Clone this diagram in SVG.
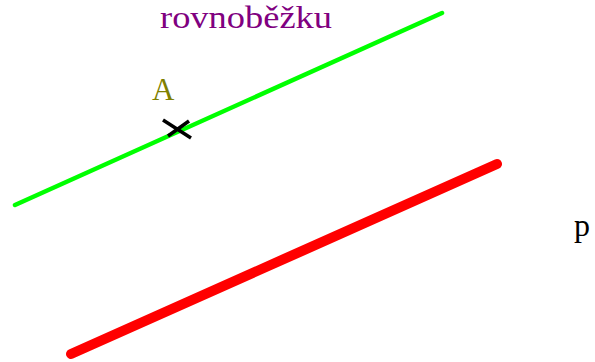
<svg xmlns="http://www.w3.org/2000/svg" width="595" height="362" viewBox="0 0 595 362">
<style>
text{font-family:"Liberation Serif","Times New Roman",serif;}
.ln{fill:none;stroke-linecap:round;}
</style>
<rect width="595" height="362" fill="#fff"/>
<g id="connectors">
<line id="rovnobezka" class="ln" x1="15" y1="205" x2="442" y2="13" stroke="#00ff00" stroke-width="4.5"/>
<line id="p-line" class="ln" x1="71" y1="354" x2="497" y2="164" stroke="#ff0000" stroke-width="10"/>
</g>
<g id="point-A">
<path d="M163 120 L191 138 M189 121 L168 136" stroke="#000" stroke-width="3.5" fill="none"/>
<text x="152" y="100" font-size="31" fill="#808000">A</text>
</g>
<g id="label-rovnobezku">
<text x="160" y="28" font-size="32" fill="#800080" textLength="172" lengthAdjust="spacingAndGlyphs">rovnoběžku</text>
</g>
<g id="label-p">
<text x="574" y="236" font-size="32" fill="#000">p</text>
</g>
</svg>
